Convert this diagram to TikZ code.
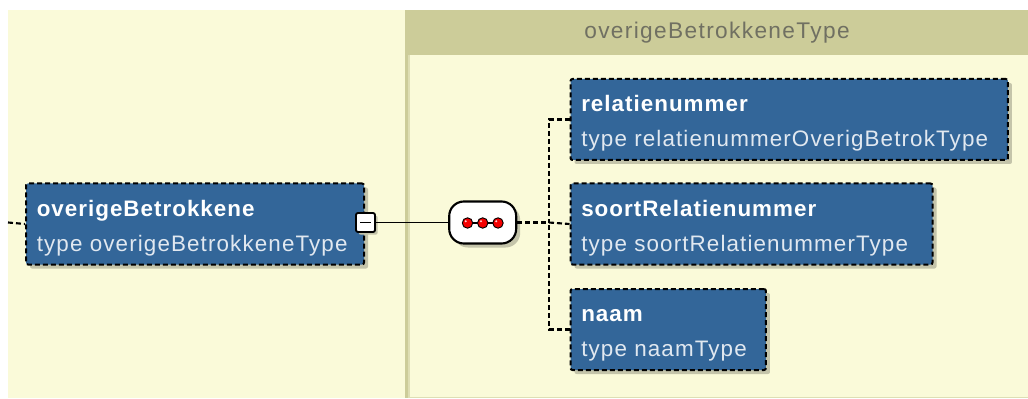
\documentclass[tikz,border=0pt]{standalone}
\usepackage{fontspec}
\setmainfont{Liberation Sans}
\newfontfamily\regfont[LetterSpace=5]{Liberation Sans}
\newfontfamily\ttlfont[LetterSpace=4.5]{Liberation Sans}
\newfontfamily\hdrfont[LetterSpace=6]{Liberation Sans}
\usetikzlibrary{shadows}
\definecolor{bgc}{RGB}{250,250,217}
\definecolor{khaki}{RGB}{204,204,153}
\definecolor{khakil}{RGB}{222,222,180}
\definecolor{boxblue}{RGB}{51,102,153}
\definecolor{typetxt}{RGB}{225,232,240}
\definecolor{shadowc}{RGB}{196,196,170}
\definecolor{hdrtxt}{RGB}{112,112,98}
\definecolor{dotred}{RGB}{245,0,0}
\tikzset{
  elbox/.style={draw=black, fill=boxblue, line width=1.5pt,
    dash pattern=on 3.75pt off 2.25pt, rounded corners=1.5pt,
    inner sep=0pt, anchor=north west, minimum height=60.75pt,
    general shadow={fill=shadowc, shadow xshift=3pt, shadow yshift=-3pt}},
  nmtext/.style={inner sep=0pt, anchor=base west, text=white,
    font=\ttlfont\bfseries\fontsize{16.8}{19}\selectfont},
  tptext/.style={inner sep=0pt, anchor=base west, text=typetxt,
    font=\regfont\fontsize{16.8}{19}\selectfont},
  hdrstyle/.style={inner sep=0pt, text=hdrtxt,
    font=\hdrfont\fontsize{17}{19}\selectfont},
  conn/.style={draw=black, line width=1.6pt, dash pattern=on 3.75pt off 2.25pt},
  solidconn/.style={draw=black, line width=1.4pt},
  minusbox/.style={draw=black, fill=white, line width=1.4pt, rounded corners=1.5pt,
    minimum size=14.25pt, inner sep=0pt,
    general shadow={fill=shadowc, shadow xshift=2pt, shadow yshift=-2pt},
    path picture={\draw[line width=1.4pt]
      ([xshift=-4pt]path picture bounding box.center) --
      ([xshift=4pt]path picture bounding box.center);}},
  seqbox/.style={draw=black, fill=white, line width=1.6pt, rounded corners=11pt,
    minimum width=50.25pt, minimum height=31.5pt, inner sep=0pt,
    general shadow={fill=shadowc, shadow xshift=3pt, shadow yshift=-3pt}},
  dot/.style={circle, draw=black, line width=0.7pt, fill=dotred,
    minimum size=7.8pt, inner sep=0pt,
    path picture={\fill[white!80!red] ([xshift=-1.3pt,yshift=1.3pt]path picture bounding box.center) circle (0.9pt);}}
}
\begin{document}
\begin{tikzpicture}[x=0.75pt,y=-0.75pt]
\useasboundingbox (0,0) rectangle (1028,399);
\fill[white] (0,0) rectangle (1028,399);
\fill[bgc] (8,10) rectangle (1028,398);
% type panel
\fill[khaki] (405,10) rectangle (1028,55);
\fill[khaki] (405,55) rectangle (408,398);
\fill[khakil] (408,55) rectangle (410,398);
\fill[khakil] (408,396.5) rectangle (1028,398);
\node[hdrstyle] (hdr) at (717,33) {overigeBetrokkeneType};

% element boxes
\node[elbox, minimum width=253.5pt] (ob) at (25,182.5) {};
\node[elbox, minimum width=328.1pt] (rel) at (569.5,78) {};
\node[elbox, minimum width=271.5pt] (soort) at (569.5,182.5) {};
\node[elbox, minimum width=146.6pt] (naam) at (569.5,288) {};

\node[nmtext] (obn) at (36.5,216.3) {overigeBetrokkene};
\node[tptext] (obt) at (36.5,251.3) {type overigeBetrokkeneType};
\node[nmtext] (reln) at (581,111.8) {relatienummer};
\node[tptext] (relt) at (581,146.8) {type relatienummerOverigBetrokType};
\node[nmtext] (soortn) at (581,216.3) {soortRelatienummer};
\node[tptext] (soortt) at (581,251.3) {type soortRelatienummerType};
\node[nmtext] (naamn) at (581,321.8) {naam};
\node[tptext] (naamt) at (581,356.8) {type naamType};

% minus box and sequence compositor
\node[minusbox] (mb) at (365.5,222.5) {};
\node[seqbox] (seq) at (482.7,222.5) {};
\draw[solidconn, line width=1.6pt] (467.5,223) coordinate (da) -- (498,223) coordinate (db);
\node[dot] (d1) at (da) {};
\node[dot] (d2) at (482.7,223) {};
\node[dot] (d3) at (db) {};

% connectors
\coordinate (lstart) at (8,222.5);
\coordinate (jn) at (549,222.5);
\draw[conn] (lstart) -- (ob.west);
\draw[solidconn] (mb.east) -- (seq.west);
\draw[conn] (seq.east) -- (jn);
\draw[conn] (rel.west) -| (jn);
\draw[conn] (naam.west) -| (jn);
\draw[conn] (jn) -- (soort.west);
\end{tikzpicture}
\end{document}
